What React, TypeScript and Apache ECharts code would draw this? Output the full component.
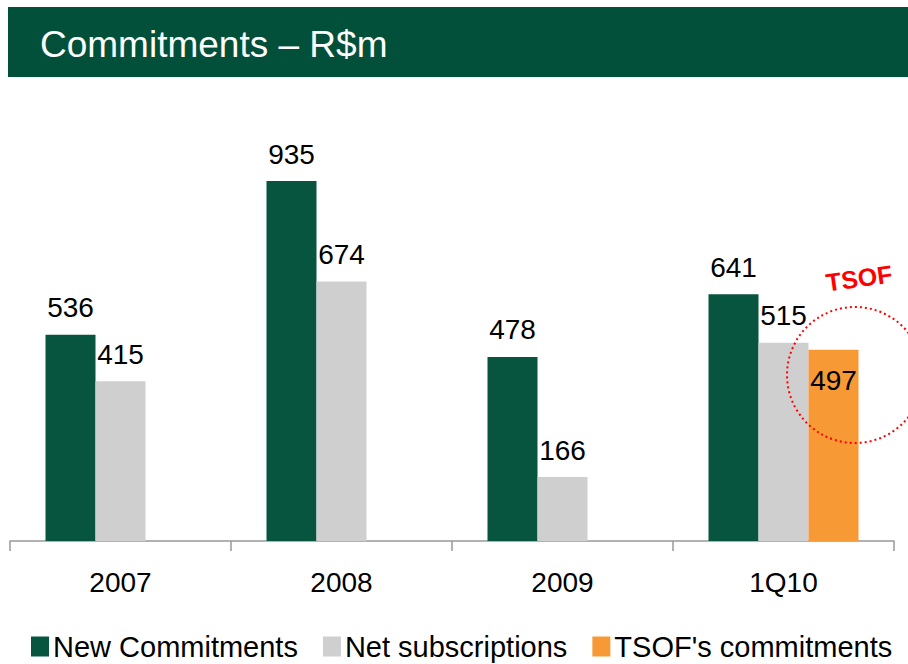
import React, { useEffect, useRef } from "react";
import * as echarts from "echarts";

const categories = ["2007", "2008", "2009", "1Q10"];
const newCommitments = [536, 935, 478, 641];
const netSubscriptions = [415, 674, 166, 515];
const tsofCommitments = [null, null, null, 497];
const seriesNames = ["New Commitments", "Net subscriptions", "TSOF's commitments"];
const titleText = "Commitments – R$m";
const annotationText = "TSOF";

const FONT = "'Liberation Sans', Arial, sans-serif";

export default function App() {
  const ref = useRef<HTMLDivElement>(null);
  useEffect(() => {
    if (!ref.current) return;
    const chart = echarts.init(ref.current, undefined, { renderer: "svg" });
    const labelStyle = { fontFamily: FONT, fontSize: 28, color: "#000" };
    chart.setOption({
      animation: false,
      backgroundColor: "#fff",
      textStyle: { fontFamily: FONT },
      grid: { left: 10, right: 14, top: 117.5, bottom: 123, containLabel: false },
      legend: {
        data: seriesNames,
        left: 26,
        top: 627,
        itemWidth: 18,
        itemHeight: 20,
        itemGap: 25,
        icon: "rect",
        textStyle: {
          fontFamily: FONT,
          fontSize: 29,
          lineHeight: 29,
          color: "#000",
          padding: [0, 0, 0, -1],
        },
      },
      xAxis: {
        type: "category",
        data: categories,
        axisLine: { lineStyle: { color: "#999", width: 1.5 } },
        axisTick: { show: true, length: 10, lineStyle: { color: "#999", width: 1.5 } },
        axisLabel: { margin: 27, fontFamily: FONT, fontSize: 28, color: "#000" },
      },
      yAxis: { type: "value", min: 0, max: 1100, show: false, splitLine: { show: false } },
      series: [
        {
          name: seriesNames[0],
          type: "bar",
          data: newCommitments,
          barWidth: 50,
          barGap: "0%",
          itemStyle: { color: "#07553F" },
          label: { show: true, position: "top", distance: 13, ...labelStyle },
        },
        {
          name: seriesNames[1],
          type: "bar",
          data: netSubscriptions,
          barWidth: 50,
          barGap: "0%",
          itemStyle: { color: "#CFCFCF" },
          label: { show: true, position: "top", distance: 13, ...labelStyle },
        },
        {
          name: seriesNames[2],
          type: "bar",
          data: tsofCommitments,
          barWidth: 50,
          barGap: "0%",
          itemStyle: { color: "#F79A35" },
          label: { show: true, position: "insideTop", distance: 17, ...labelStyle },
        },
      ],
      graphic: [
        {
          type: "rect",
          shape: { x: 8, y: 7, width: 900, height: 70 },
          style: { fill: "#03503A" },
          silent: true,
        },
        {
          type: "text",
          x: 40,
          y: 44,
          style: {
            text: titleText,
            fill: "#fff",
            fontFamily: FONT,
            fontSize: 37,
            verticalAlign: "middle",
          },
        },
        {
          type: "circle",
          shape: { cx: 855, cy: 375, r: 68 },
          style: { fill: "none", stroke: "#FF0000", lineWidth: 2, lineDash: [2, 3] },
          z: 100,
        },
        {
          type: "text",
          x: 859,
          y: 278,
          rotation: 0.14,
          style: {
            text: annotationText,
            fill: "#FF0000",
            fontFamily: FONT,
            fontSize: 25,
            fontWeight: "bold",
            align: "center",
            verticalAlign: "middle",
          },
          z: 100,
        },
      ],
    });
    return () => chart.dispose();
  }, []);
  return (
    <div
      ref={ref}
      style={{ position: "fixed", left: 0, top: 0, width: 908, height: 664 }}
    />
  );
}
